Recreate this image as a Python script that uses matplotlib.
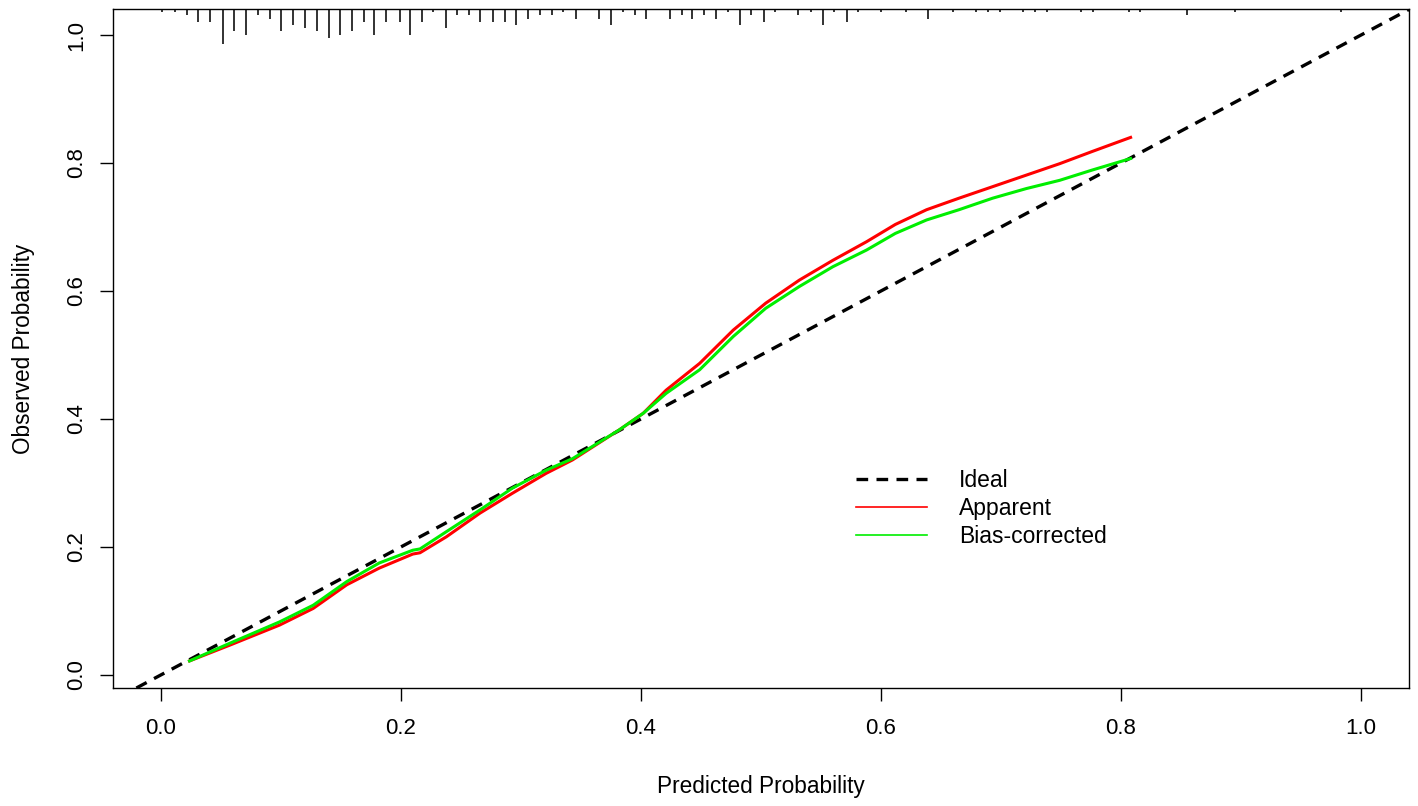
import numpy as np
import matplotlib
matplotlib.use("Agg")
import matplotlib.pyplot as plt
from matplotlib.lines import Line2D

plt.rcParams['font.family'] = ['Liberation Sans', 'DejaVu Sans']

# calibration curves
pred = [0.024, 0.058, 0.099, 0.127, 0.155, 0.182, 0.210, 0.216, 0.238, 0.266,
        0.293, 0.321, 0.343, 0.382, 0.402, 0.421, 0.449, 0.477, 0.504, 0.532,
        0.560, 0.588, 0.612, 0.638, 0.665, 0.693, 0.721, 0.749, 0.776, 0.808]
apparent = [0.022, 0.047, 0.078, 0.104, 0.141, 0.167, 0.189, 0.191, 0.216, 0.253,
            0.284, 0.315, 0.336, 0.383, 0.409, 0.445, 0.487, 0.539, 0.581, 0.617,
            0.648, 0.677, 0.704, 0.727, 0.745, 0.763, 0.781, 0.799, 0.818, 0.840]
bias_corrected = [0.022, 0.050, 0.083, 0.109, 0.146, 0.175, 0.195, 0.197, 0.224, 0.258,
                  0.292, 0.320, 0.338, 0.383, 0.409, 0.440, 0.477, 0.529, 0.573, 0.607,
                  0.638, 0.664, 0.690, 0.711, 0.727, 0.745, 0.760, 0.773, 0.789, 0.807]

# distribution of predicted probabilities (spike histogram along the top)
rug_x = [0.001, 0.012, 0.022, 0.031, 0.041, 0.052, 0.061, 0.071, 0.081, 0.091,
         0.100, 0.110, 0.120, 0.130, 0.140, 0.149, 0.159, 0.169, 0.178, 0.188,
         0.199, 0.208, 0.218, 0.227, 0.238, 0.247, 0.257, 0.266, 0.277, 0.287,
         0.296, 0.306, 0.316, 0.326, 0.335, 0.346, 0.365, 0.375, 0.385, 0.395,
         0.404, 0.424, 0.434, 0.443, 0.453, 0.463, 0.473, 0.483, 0.492, 0.503,
         0.512, 0.531, 0.542, 0.552, 0.561, 0.572, 0.581, 0.600, 0.621, 0.639,
         0.660, 0.679, 0.689, 0.699, 0.718, 0.728, 0.738, 0.767, 0.777, 0.807,
         0.816, 0.855, 0.895, 0.983]
rug_n = [1, 1, 2, 4, 4, 11, 7, 8, 2, 3,
         7, 5, 6, 7, 9, 8, 7, 4, 8, 4,
         4, 8, 4, 1, 6, 2, 2, 4, 4, 4,
         5, 3, 2, 2, 1, 3, 3, 5, 1, 2,
         3, 3, 2, 3, 2, 3, 1, 5, 2, 4,
         1, 2, 1, 5, 1, 4, 1, 1, 1, 3,
         1, 1, 1, 1, 1, 1, 1, 1, 1, 1,
         1, 2, 1, 1]

fig = plt.figure(figsize=(14.18, 8.06), dpi=100)
ax = fig.add_axes([0.0795, 0.1464, 0.9142, 0.8424])

ax.axline((0, 0), (1, 1), color='black', lw=2.4, ls=(0, (3.5, 2.5)))
ax.plot(pred, apparent, color='#ff0000', lw=2.2)
ax.plot(pred, bias_corrected, color='#00ee00', lw=2.2)

spike = 0.0047  # axes fraction per count
trans = ax.get_xaxis_transform()
ax.vlines(rug_x, 1 - np.array(rug_n) * spike, 1, transform=trans,
          color='#222222', lw=1.3)

ax.set_xlim(-0.04, 1.04)
ax.set_ylim(-0.0203, 1.0406)
ticks = [0.0, 0.2, 0.4, 0.6, 0.8, 1.0]
ax.set_xticks(ticks)
ax.set_yticks(ticks)
ax.set_xticklabels([f"{t:.1f}" for t in ticks])
ax.set_yticklabels([f"{t:.1f}" for t in ticks], rotation=90, va='center')
ax.tick_params(direction='out', length=9.5, width=1, labelsize=16, pad=12)
ax.tick_params(axis='y', pad=9)
for s in ax.spines.values():
    s.set_linewidth(1)

ax.set_xlabel("Predicted Probability", fontsize=16.3, labelpad=26)
ax.set_ylabel("Observed Probability", fontsize=16.3, labelpad=22)

handles = [Line2D([], [], color='black', lw=2.4, ls=(0, (3.5, 2.5))),
           Line2D([], [], color='#ff0000', lw=1.2),
           Line2D([], [], color='#00ee00', lw=1.2)]
ax.legend(handles, ["Ideal", "Apparent", "Bias-corrected"], frameon=False,
          fontsize=16.5, loc='upper left', bbox_to_anchor=(0.573, 0.322),
          handlelength=3.1, handletextpad=1.4, labelspacing=0.22,
          borderpad=0, borderaxespad=0)

fig.savefig("out.png", dpi=100)
